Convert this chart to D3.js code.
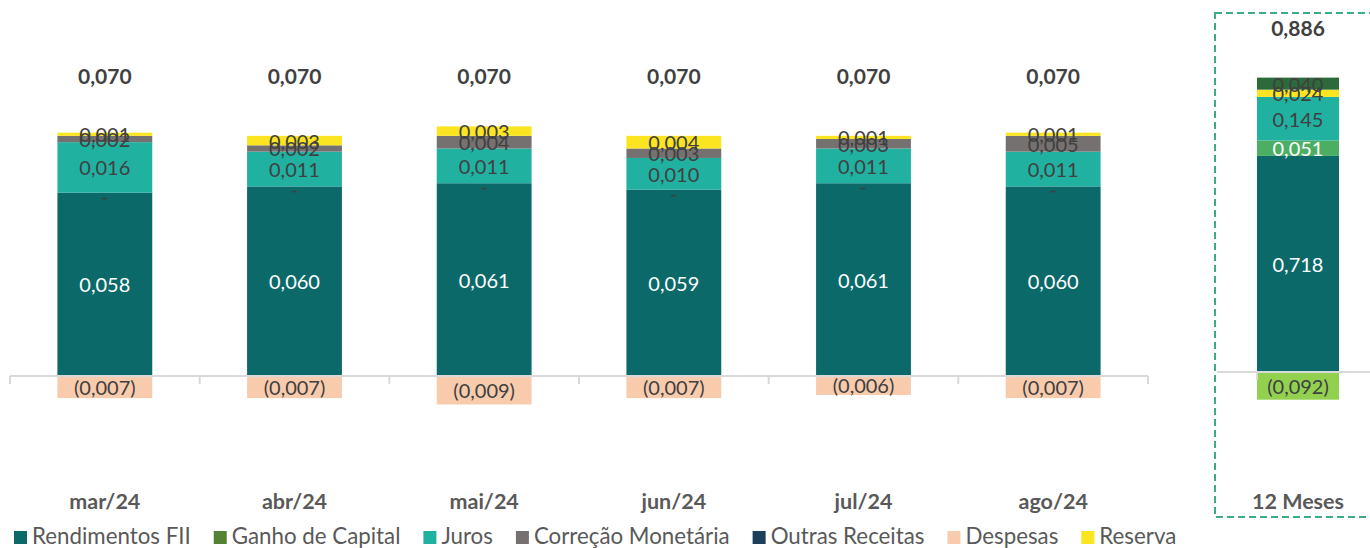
<!DOCTYPE html>
<html>
<head>
	<meta charset="utf-8">
	<script src="https://cdn.jsdelivr.net/npm/d3@7"></script>
	<style>
	body{ margin:0; background:#fff; }
	svg{ font-family: Lato, sans-serif; display:block; }
	</style>
</head>
<body>
<svg id="chart" width="1370" height="548"></svg>
<script>
// monthly data
var months = ["mar/24", "abr/24", "mai/24", "jun/24", "jul/24", "ago/24"];
var rendimentos = [0.058, 0.060, 0.061, 0.059, 0.061, 0.060];
var ganhoCapital = [0, 0, 0, 0, 0, 0];
var juros = [0.016, 0.011, 0.011, 0.010, 0.011, 0.011];
var correcao = [0.002, 0.002, 0.004, 0.003, 0.003, 0.005];
var reserva = [0.001, 0.003, 0.003, 0.004, 0.001, 0.001];
var outras = [0, 0, 0, 0, 0, 0];
var despesas = [-0.007, -0.007, -0.009, -0.007, -0.006, -0.007];
var totals = [0.070, 0.070, 0.070, 0.070, 0.070, 0.070];

// 12 month data
var periodo = ["12 Meses"];
var rendimentos12 = [0.718];
var ganhoCapital12 = [0.051];
var juros12 = [0.145];
var correcao12 = [0];
var reserva12 = [0.024];
var outras12 = [0.040];
var despesas12 = [-0.092];
var totals12 = [0.886];

var legendNames = ["Rendimentos FII", "Ganho de Capital", "Juros", "Correção Monetária", "Outras Receitas", "Despesas", "Reserva"];
var keys = ["rend", "ganho", "juros", "correcao", "reserva", "outras", "despesas"];

var colors = {rend: "#0b6969", ganho: "#548235", juros: "#21b1a0", correcao: "#767171",
	outras: "#1c3f5c", despesas: "#f8cbad", reserva: "#fbe520"};
var colors12 = Object.assign({}, colors, {ganho: "#4bae63", outras: "#2d6a3b", despesas: "#92d050"});

var svg = d3.select("#chart");
var axisColor = "#d9d9d9";
var labelColor = "#404040";

function fmt(v) {
	var s = d3.format(".3f")(Math.abs(v)).replace(".", ",");
	return v < 0 ? "(" + s + ")" : s;
}

function buildRows(cats, arrs) {
	return cats.map(function(c, i) {
		var r = {cat: c};
		keys.forEach(function(k) { r[k] = arrs[k][i]; });
		return r;
	});
}

function drawPanel(opt) {
	var rows = buildRows(opt.cats, opt.arrs);
	var series = d3.stack().keys(keys).offset(d3.stackOffsetDiverging)(rows);

	var x = d3.scaleBand().domain(opt.cats).range(opt.xRange)
		.paddingInner(opt.padIn).paddingOuter(opt.padOut);
	var y = d3.scaleLinear().domain(opt.yDomain).range(opt.yRange);
	var half = (x.step() - x.bandwidth()) / 2;

	var g = svg.append("g");

	// bars
	series.forEach(function(s) {
		g.selectAll(null).data(s.filter(function(d) { return d[1] != d[0]; }))
			.enter().append("rect")
			.attr("x", function(d) { return x(d.data.cat); })
			.attr("width", x.bandwidth())
			.attr("y", function(d) { return y(Math.max(d[0], d[1])); })
			.attr("height", function(d) { return Math.abs(y(d[0]) - y(d[1])); })
			.attr("fill", opt.colors[s.key]);
	});

	// axis line with ticks at category boundaries
	g.append("line")
		.attr("x1", opt.xRange[0]).attr("x2", opt.axisEnd)
		.attr("y1", y(0)).attr("y2", y(0))
		.attr("stroke", axisColor).attr("stroke-width", 2);
	var bounds = opt.cats.map(function(c) { return x(c) - half; });
	if (opt.tickEnd) bounds.push(x(opt.cats[opt.cats.length - 1]) + x.bandwidth() + half);
	g.selectAll(null).data(bounds).enter().append("line")
		.attr("x1", function(d) { return d; }).attr("x2", function(d) { return d; })
		.attr("y1", y(0)).attr("y2", y(0) + 8)
		.attr("stroke", axisColor).attr("stroke-width", 2);

	// segment labels
	series.forEach(function(s) {
		s.forEach(function(d) {
			var v = d.data[s.key];
			var cx = x(d.data.cat) + x.bandwidth() / 2;
			var cy = y((d[0] + d[1]) / 2);
			if (v == 0) {
				// zero capital gain shows as a dash on top of the FII income
				if (s.key != "ganho") return;
				g.append("text").attr("x", cx).attr("y", y(d.data.rend) + 3)
					.attr("text-anchor", "middle").attr("dominant-baseline", "central")
					.attr("font-size", 20).attr("fill", labelColor).text("-");
				return;
			}
			var white = s.key == "rend" || (opt.whiteGanho && s.key == "ganho");
			g.append("text").attr("x", cx).attr("y", cy)
				.attr("text-anchor", "middle").attr("dominant-baseline", "central")
				.attr("font-size", 20)
				.attr("fill", white ? "#fff" : labelColor)
				.text(fmt(v));
		});
	});

	// totals
	g.selectAll(null).data(opt.totals).enter().append("text")
		.attr("x", function(d, i) { return x(opt.cats[i]) + x.bandwidth() / 2; })
		.attr("y", y(opt.totalLevel))
		.attr("text-anchor", "middle")
		.attr("font-size", 21).attr("font-weight", "bold").attr("fill", labelColor)
		.text(function(d) { return fmt(d); });

	// category labels
	g.selectAll(null).data(opt.cats).enter().append("text")
		.attr("x", function(d) { return x(d) + x.bandwidth() / 2; })
		.attr("y", 509)
		.attr("text-anchor", "middle")
		.attr("font-size", 21.5).attr("font-weight", "bold").attr("fill", "#595959")
		.text(function(d) { return d; });
}

drawPanel({
	cats: months,
	arrs: {rend: rendimentos, ganho: ganhoCapital, juros: juros, correcao: correcao,
		reserva: reserva, outras: outras, despesas: despesas},
	totals: totals,
	colors: colors,
	xRange: [10, 1148], axisEnd: 1148, tickEnd: true,
	padIn: 0.5, padOut: 0.25,
	yDomain: [-0.04, 0.09], yRange: [376 + 0.04 * 3160, 376 - 0.09 * 3160],
	totalLevel: 0.0925
});

drawPanel({
	cats: periodo,
	arrs: {rend: rendimentos12, ganho: ganhoCapital12, juros: juros12, correcao: correcao12,
		reserva: reserva12, outras: outras12, despesas: despesas12},
	totals: totals12,
	colors: colors12,
	whiteGanho: true,
	xRange: [1217, 1379], axisEnd: 1370, tickEnd: false,
	padIn: 0, padOut: 0.488,
	yDomain: [-0.4, 1.0], yRange: [372 + 0.4 * 301, 372 - 1.0 * 301],
	totalLevel: 1.117
});

// dashed frame around 12 month panel
svg.append("rect")
	.attr("x", 1215).attr("y", 13).attr("width", 170).attr("height", 504)
	.attr("fill", "none").attr("stroke", "#3dab86").attr("stroke-width", 2)
	.attr("stroke-dasharray", "7,4");

// legend
var legendColors = [colors.rend, colors.ganho, colors.juros, colors.correcao, colors.outras, colors.despesas, colors.reserva];
var lx = 14;
var legend = svg.append("g");
legendNames.forEach(function(name, i) {
	legend.append("rect").attr("x", lx).attr("y", 531).attr("width", 13).attr("height", 13)
		.attr("fill", legendColors[i]);
	var t = legend.append("text").attr("x", lx + 18).attr("y", 544)
		.attr("font-size", 22.3).attr("fill", "#595959").text(name);
	lx += 18 + t.node().getComputedTextLength() + 23;
});
</script>
</body>
</html>
